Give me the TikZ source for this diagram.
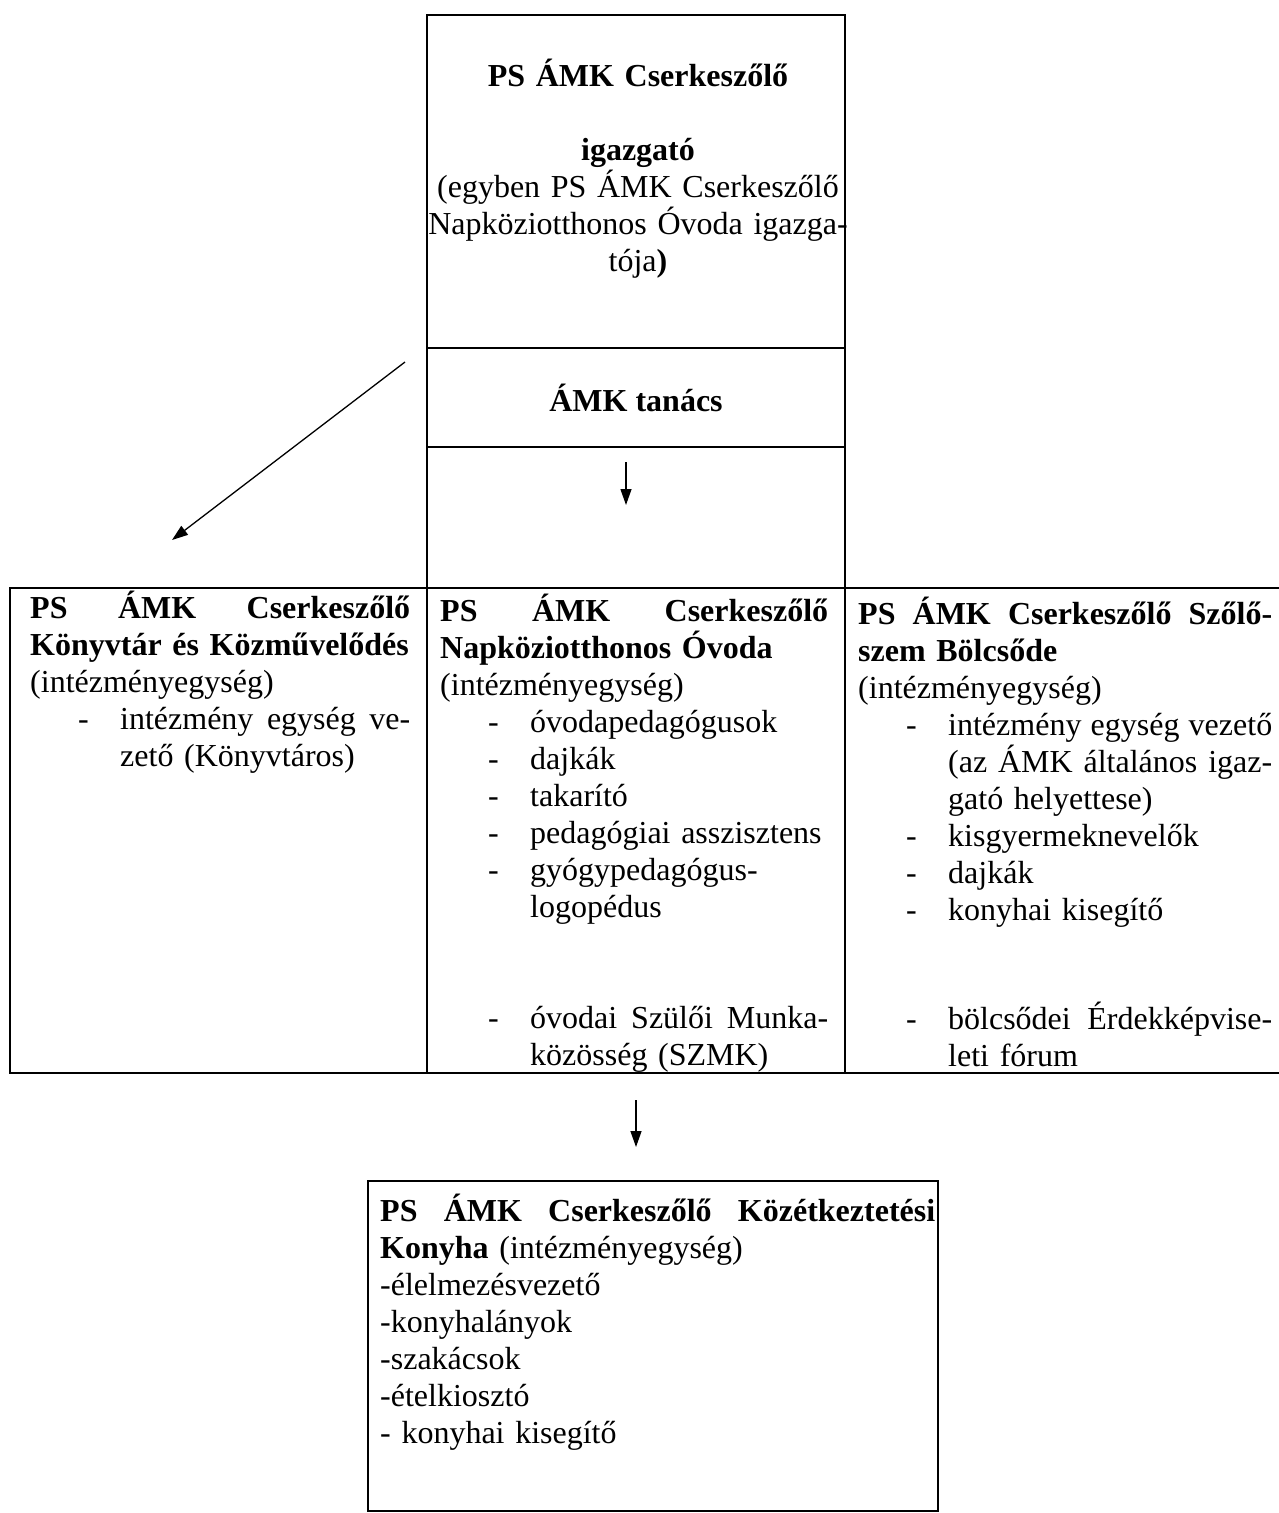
\documentclass[tikz,border=0pt]{standalone}
\usepackage{fontspec}
\setmainfont{Liberation Serif}
\usetikzlibrary{arrows.meta}
\newcommand{\tetel}[1]{\hspace*{48pt}\makebox[42pt][l]{-}#1}
\newcommand{\folyt}{\hspace*{90pt}}

\begin{document}
\begin{tikzpicture}[x=1pt,y=-1pt,
  cella/.style={draw,line width=1.3pt,anchor=north west,inner sep=0pt,outer sep=0pt},
  szoveg/.style={anchor=base west,inner sep=0pt,align=left},
  nyil/.style={-{Triangle[length=16pt,width=11pt]},line width=1.3pt},
  font=\fontsize{32}{37}\selectfont]
\path[use as bounding box,fill=white] (0,0) rectangle (1278,1513);

\node[cella,minimum width=418pt,minimum height=333pt] (igazgato) at (427,15) {};
\node[cella,minimum width=418pt,minimum height=99pt] (tanacs) at (427,348) {\bfseries ÁMK tanács};
\node[cella,minimum width=418pt,minimum height=141pt] (ures) at (427,447) {};
\node[cella,minimum width=417pt,minimum height=485pt] (konyvtar) at (10,588) {};
\node[cella,minimum width=418pt,minimum height=485pt] (ovoda) at (427,588) {};
\node[cella,minimum width=450pt,minimum height=485pt] (bolcsode) at (845,588) {};
\node[cella,minimum width=570pt,minimum height=330pt] (konyha) at (368,1181) {};

\node[anchor=base,inner sep=0pt,align=center,text width=440pt] (igazgatoszoveg) at (638,86) {%
{\bfseries PS ÁMK Cserkeszőlő}\\[37pt]
{\bfseries igazgató}\\
(egyben PS ÁMK Cserkeszőlő\\
Napköziotthonos Óvoda igazga-\\
tója{\bfseries )}};

\node[szoveg,text width=380pt] (konyvtarszoveg) at (30,618) {%
{\bfseries PS\hfill ÁMK\hfill Cserkeszőlő}\\
{\bfseries Könyvtár és Közművelődés}\\
(intézményegység)\\
\tetel{intézmény\hfill egység\hfill ve-}\\
\folyt zető (Könyvtáros)};

\node[szoveg,text width=388pt] (ovodaszoveg) at (440,621) {%
{\bfseries PS\hfill ÁMK\hfill Cserkeszőlő}\\
{\bfseries Napköziotthonos Óvoda}\\
(intézményegység)\\
\tetel{óvodapedagógusok}\\
\tetel{dajkák}\\
\tetel{takarító}\\
\tetel{pedagógiai asszisztens}\\
\tetel{gyógypedagógus-}\\
\folyt logopédus\\[74pt]
\tetel{óvodai\hfill Szülői\hfill Munka-}\\
\folyt közösség (SZMK)};

\node[szoveg,text width=414pt] (bolcsodeszoveg) at (858,624) {%
{\bfseries PS\hfill ÁMK\hfill Cserkeszőlő\hfill Szőlő-}\\
{\bfseries szem Bölcsőde}\\
(intézményegység)\\
\tetel{intézmény\hfill egység\hfill vezető}\\
\folyt (az\hfill ÁMK\hfill általános\hfill igaz-\\
\folyt gató helyettese)\\
\tetel{kisgyermeknevelők}\\
\tetel{dajkák}\\
\tetel{konyhai kisegítő}\\[72pt]
\tetel{bölcsődei\hfill Érdekképvise-}\\
\folyt leti fórum};

\node[szoveg,text width=555pt] (konyhaszoveg) at (380,1221) {%
{\bfseries PS\hfill ÁMK\hfill Cserkeszőlő\hfill Közétkeztetési}\\
{\bfseries Konyha} (intézményegység)\\
-élelmezésvezető\\
-konyhalányok\\
-szakácsok\\
-ételkiosztó\\
- konyhai kisegítő};

\coordinate (atlo1) at (405,362);
\coordinate (atlo2) at (172,540);
\draw[nyil] (atlo1) -- (atlo2);
\draw[nyil,shorten <=15pt,shorten >=83pt] ([xshift=-10pt]tanacs.south) -- ([xshift=-10pt]ures.south);
\draw[nyil,shorten <=27pt,shorten >=34pt] (ovoda.south) -- (ovoda.south |- konyha.north);
\end{tikzpicture}
\end{document}
